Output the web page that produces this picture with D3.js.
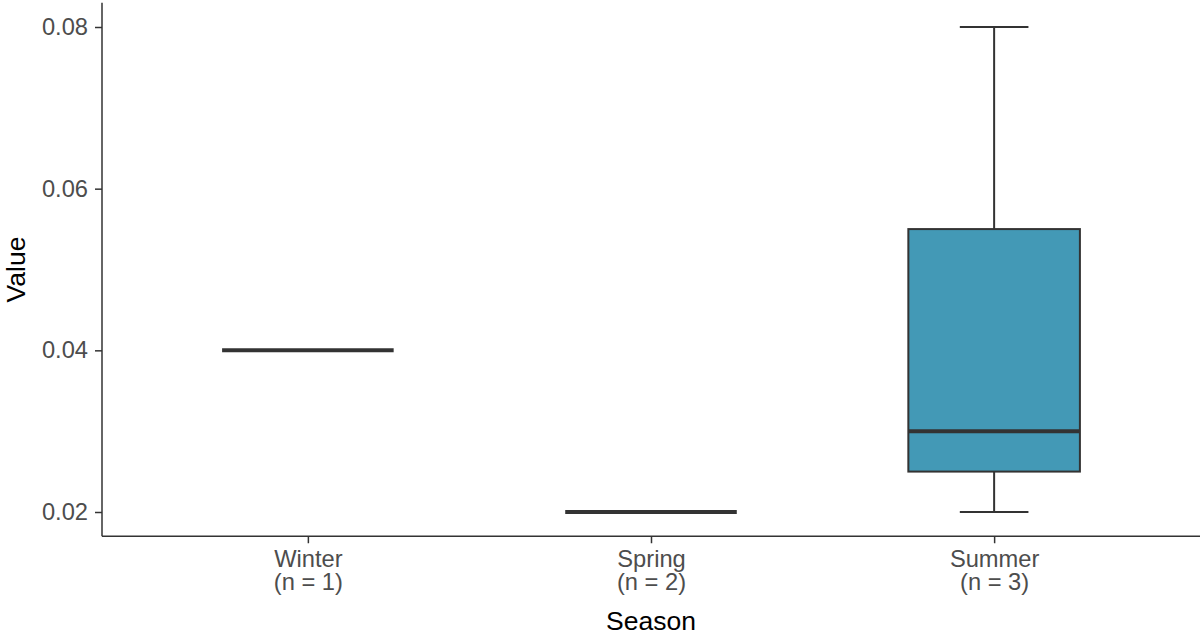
<!DOCTYPE html>
<html>
<head>
<meta charset="utf-8">
<script src="https://cdn.jsdelivr.net/npm/d3@7"></script>
<style>
  html, body { margin: 0; padding: 0; background: #fff; }
  svg { display: block; font-family: "Liberation Sans", Arial, sans-serif; }
</style>
</head>
<body>
<svg id="chart" width="1200" height="634"></svg>
<script>
// ---- data ----
const seasons = ["Winter", "Spring", "Summer"];
const counts = [1, 2, 3];
const winterValues = [0.04];
const springValues = [0.02, 0.02];
const summerValues = [0.02, 0.03, 0.08];
const yTicks = [0.02, 0.04, 0.06, 0.08];
const xTitle = "Season";
const yTitle = "Value";

const seriesValues = [winterValues, springValues, summerValues];

// ---- layout ----
const W = 1200, H = 634;
const panel = { left: 102, right: 1200, top: 2.75, bottom: 536.25 };
const fillColor = "#4399b6";
const lineColor = "#333333";

const svg = d3.select("#chart");

const x = d3.scalePoint().domain(seasons).range([panel.left, panel.right]).padding(0.6);
const y = d3.scaleLinear().domain([0.017, 0.083]).range([panel.bottom, panel.top]);

const step = x.step();
const boxW = step * 0.5;
const capW = step * 0.2;

const stats = seasons.map((s, i) => {
  const v = seriesValues[i].slice().sort(d3.ascending);
  return {
    season: s,
    min: d3.min(v),
    q1: d3.quantile(v, 0.25),
    med: d3.quantile(v, 0.5),
    q3: d3.quantile(v, 0.75),
    max: d3.max(v)
  };
});

const g = svg.append("g");

// errorbars (whiskers + caps)
const eb = g.selectAll("g.eb").data(stats).join("g").attr("class", "eb");
eb.append("line")
  .attr("x1", d => x(d.season)).attr("x2", d => x(d.season))
  .attr("y1", d => y(d.min)).attr("y2", d => y(d.max))
  .attr("stroke", lineColor).attr("stroke-width", 2);
eb.append("line")
  .attr("x1", d => x(d.season) - capW / 2).attr("x2", d => x(d.season) + capW / 2)
  .attr("y1", d => y(d.max)).attr("y2", d => y(d.max))
  .attr("stroke", lineColor).attr("stroke-width", 2);
eb.append("line")
  .attr("x1", d => x(d.season) - capW / 2).attr("x2", d => x(d.season) + capW / 2)
  .attr("y1", d => y(d.min)).attr("y2", d => y(d.min))
  .attr("stroke", lineColor).attr("stroke-width", 2);

// boxes
const bx = g.selectAll("g.box").data(stats).join("g").attr("class", "box");
bx.append("rect")
  .attr("x", d => x(d.season) - boxW / 2)
  .attr("width", boxW)
  .attr("y", d => y(d.q3))
  .attr("height", d => Math.max(0, y(d.q1) - y(d.q3)))
  .attr("fill", fillColor)
  .attr("stroke", lineColor)
  .attr("stroke-width", 2);
bx.append("line")
  .attr("x1", d => x(d.season) - boxW / 2).attr("x2", d => x(d.season) + boxW / 2)
  .attr("y1", d => y(d.med)).attr("y2", d => y(d.med))
  .attr("stroke", lineColor).attr("stroke-width", 4);

// y axis
const yAxis = svg.append("g")
  .attr("transform", `translate(${panel.left},0)`)
  .call(d3.axisLeft(y).tickValues(yTicks).tickSize(7).tickPadding(7).tickSizeOuter(0).tickFormat(d3.format(".2f")));
yAxis.select(".domain").attr("stroke", lineColor).attr("stroke-width", 1.5)
  .attr("d", `M0,${panel.top}V${panel.bottom}`);
yAxis.selectAll(".tick line").attr("stroke", lineColor).attr("stroke-width", 1.5);
yAxis.selectAll(".tick text").attr("fill", "#4d4d4d").style("font-size", "23.7px")
  .style("font-family", "Liberation Sans, Arial, sans-serif");

// x axis
const xAxis = svg.append("g")
  .attr("transform", `translate(0,${panel.bottom})`)
  .call(d3.axisBottom(x).tickSize(7).tickSizeOuter(0).tickFormat(() => ""));
xAxis.select(".domain").attr("stroke", lineColor).attr("stroke-width", 1.5)
  .attr("d", `M${panel.left},0H${panel.right}`);
xAxis.selectAll(".tick line").attr("stroke", lineColor).attr("stroke-width", 1.5);
xAxis.selectAll(".tick text").remove();
xAxis.selectAll(".tick").each(function (d, i) {
  const t = d3.select(this).append("text")
    .attr("fill", "#4d4d4d")
    .attr("text-anchor", "middle")
    .style("font-size", "23.7px")
    .style("font-family", "Liberation Sans, Arial, sans-serif");
  t.append("tspan").attr("x", 0).attr("y", 30.5).text(d);
  t.append("tspan").attr("x", 0).attr("y", 54).text(`(n = ${counts[i]})`);
});

// titles
svg.append("text")
  .attr("x", (panel.left + panel.right) / 2)
  .attr("y", 630)
  .attr("text-anchor", "middle")
  .attr("fill", "#000")
  .style("font-size", "26.5px")
  .text(xTitle);
svg.append("text")
  .attr("transform", `translate(25,${(panel.top + panel.bottom) / 2}) rotate(-90)`)
  .attr("text-anchor", "middle")
  .attr("fill", "#000")
  .style("font-size", "26.5px")
  .text(yTitle);
</script>
</body>
</html>
